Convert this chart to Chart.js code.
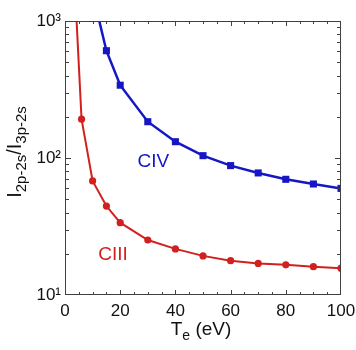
<!DOCTYPE html>
<html>
<head>
<meta charset="utf-8">
<script src="https://cdn.jsdelivr.net/npm/chart.js@4/dist/chart.umd.min.js"></script>
<style>
  html, body { margin: 0; padding: 0; background: #fff; }
  #wrap { width: 356px; height: 350px; }
</style>
</head>
<body>
<div id="wrap"><canvas id="ratioPlot"></canvas></div>
<script>
// CIII ratio (red circles); first point is only there to carry the line off the top
const ciiiTemps = [4, 6, 10, 15, 20, 30, 40, 50, 60, 70, 80, 90, 100];
const ciiiRatio = [1200, 192, 68, 44.6, 33.7, 25.2, 21.7, 19.3, 17.8, 17.0, 16.6, 16.1, 15.7];

// CIV ratio (blue squares)
const civTemps = [10, 15, 20, 30, 40, 50, 60, 70, 80, 90, 100];
const civRatio = [1600, 607, 340, 184, 131.5, 104, 88, 77.8, 69.9, 64.6, 60];

const xTickVals = [0, 20, 40, 60, 80, 100];
const yTickVals = [10, 100, 1000];
const yTickText = ['10\u00B9', '10\u00B2', '10\u00B3'];

const RED = '#d2201e';
const BLUE = '#1616c4';
const FONT = "'Liberation Sans', Arial, sans-serif";

function toPoints(xs, ys) {
  return xs.map((x, i) => ({ x: x, y: ys[i] }));
}

// frame, inward ticks, axis titles and series labels
const decorations = {
  id: 'decorations',
  afterDraw(chart) {
    const ctx = chart.ctx;
    const a = chart.chartArea;
    const x = chart.scales.x;
    const y = chart.scales.y;
    ctx.save();
    ctx.strokeStyle = '#404040';
    ctx.lineWidth = 1;
    ctx.strokeRect(Math.round(a.left) + 0.5, Math.round(a.top) + 0.5,
                   Math.round(a.right - a.left) - 1, Math.round(a.bottom - a.top) - 1);

    ctx.beginPath();
    for (let v = 5; v < 100; v += 5) {
      const px = Math.round(x.getPixelForValue(v)) + 0.5;
      const len = v % 20 === 0 ? 5 : 3;
      ctx.moveTo(px, a.bottom); ctx.lineTo(px, a.bottom - len);
      ctx.moveTo(px, a.top); ctx.lineTo(px, a.top + len);
    }
    for (const d of [10, 100]) {
      for (let m = 1; m <= 9; m++) {
        if (d === 10 && m === 1) continue;
        const py = Math.round(y.getPixelForValue(d * m)) + 0.5;
        const len = m === 1 ? 6 : 4;
        ctx.moveTo(a.left, py); ctx.lineTo(a.left + len, py);
        ctx.moveTo(a.right, py); ctx.lineTo(a.right - len, py);
      }
    }
    ctx.stroke();

    // series labels
    ctx.textAlign = 'center';
    ctx.textBaseline = 'middle';
    ctx.font = '19px ' + FONT;
    ctx.fillStyle = BLUE;
    ctx.fillText('CIV', x.getPixelForValue(32), y.getPixelForValue(94));
    ctx.fillStyle = RED;
    ctx.fillText('CIII', x.getPixelForValue(17.4), y.getPixelForValue(19.6));

    // x title: T_e (eV)
    ctx.fillStyle = '#111';
    ctx.textBaseline = 'alphabetic';
    ctx.textAlign = 'left';
    drawRun(ctx, [['T', 19, 0], ['e', 14, 5], [' (eV)', 19, 0]], 201, 335);

    // y title: I_2p-2s / I_3p-2s, rotated
    ctx.translate(21, 152);
    ctx.rotate(-Math.PI / 2);
    drawRun(ctx, [['I', 20, 0], ['2p-2s', 15, 5], ['/I', 20, 0], ['3p-2s', 15, 5]], 0, 0);
    ctx.restore();
  }
};

function drawRun(ctx, parts, cx, baseY) {
  let total = 0;
  for (const p of parts) { ctx.font = p[1] + 'px ' + FONT; total += ctx.measureText(p[0]).width; }
  let px = cx - total / 2;
  for (const p of parts) {
    ctx.font = p[1] + 'px ' + FONT;
    ctx.fillText(p[0], px, baseY + p[2]);
    px += ctx.measureText(p[0]).width;
  }
}

new Chart(document.getElementById('ratioPlot').getContext('2d'), {
  type: 'line',
  data: {
    datasets: [{
      label: 'CIII',
      data: toPoints(ciiiTemps, ciiiRatio),
      borderColor: RED,
      backgroundColor: RED,
      borderWidth: 2,
      pointStyle: 'circle',
      pointRadius: ciiiTemps.map((t, i) => i === 0 ? 0 : 3.6),
      pointBorderWidth: 0,
      tension: 0
    }, {
      label: 'CIV',
      data: toPoints(civTemps, civRatio),
      borderColor: BLUE,
      backgroundColor: BLUE,
      borderWidth: 2.5,
      pointStyle: 'rect',
      pointRadius: civTemps.map((t, i) => i === 0 ? 0 : 5),
      pointBorderWidth: 0,
      tension: 0
    }]
  },
  options: {
    responsive: true,
    maintainAspectRatio: false,
    animation: false,
    layout: { padding: { left: 0, right: 15, top: 21, bottom: 0 } },
    plugins: { legend: { display: false }, tooltip: { enabled: false } },
    scales: {
      x: {
        type: 'linear',
        min: 0,
        max: 100,
        afterBuildTicks: scale => { scale.ticks = xTickVals.map(v => ({ value: v })); },
        ticks: { font: { family: FONT, size: 17 }, color: '#111', padding: 6, maxRotation: 0 },
        grid: { display: false, drawTicks: false },
        border: { display: false },
        afterFit: scale => {
          scale.height = 55;
          scale.paddingLeft = 0;
          scale.paddingRight = 0;
        }
      },
      y: {
        type: 'logarithmic',
        min: 10,
        max: 1000,
        afterBuildTicks: scale => { scale.ticks = yTickVals.map(v => ({ value: v })); },
        ticks: {
          font: { family: FONT, size: 17 },
          color: '#111',
          padding: 4,
          callback: (v) => yTickText[yTickVals.indexOf(v)] || ''
        },
        grid: { display: false, drawTicks: false },
        border: { display: false },
        afterFit: scale => {
          scale.width = 65;
          scale.paddingTop = 0;
          scale.paddingBottom = 0;
        }
      }
    }
  },
  plugins: [decorations]
});
</script>
</body>
</html>
